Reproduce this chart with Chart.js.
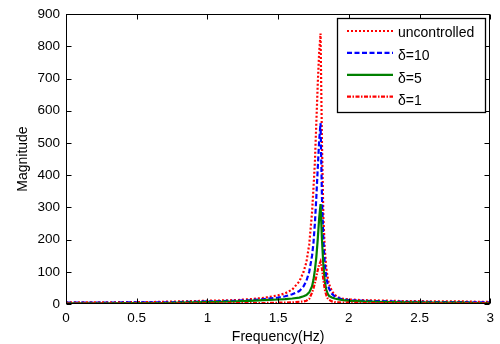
<!DOCTYPE html>
<html>
<head>
<meta charset="utf-8">
<script src="https://cdn.jsdelivr.net/npm/chart.js@4/dist/chart.umd.min.js"></script>
<style>
html,body{margin:0;padding:0;background:#fff;}
#c{display:block;}
</style>
</head>
<body>
<canvas id="c" width="500" height="344"></canvas>
<script>
// ---- data ----
const freq = [0,0.1,0.2,0.3,0.4,0.5,0.6,0.7,0.8,0.9,1.0,1.1,1.2,1.3,1.4,1.5,1.55,1.6,1.65,1.68,1.7,1.72,1.74,1.75,1.76,1.77,1.78,1.79,1.8,1.81,1.82,1.83,1.84,1.85,1.86,1.88,1.9,1.93,1.96,2.0,2.1,2.2,2.3,2.4,2.5,2.6,2.7,2.8,2.9,3.0];
const uncontrolled = [5,5,5,5,6,6,6,7,8,9,10,11,12,15,19,27,33,45,70,100,130,185,285,360,440,560,680,780,840,500,270,170,115,82,62,40,28,20,16,14,12,11,10,9,9,8,8,8,7,7];
const delta10 = [4,4,4,4,5,5,5,5,6,7,8,9,10,12,15,20,24,30,40,55,72,100,150,190,250,330,420,505,562,330,200,125,85,62,48,32,24,18,14,12,10,9,8,7,7,6,6,6,5,5];
const delta5 = [2,2,2,2,3,3,3,3,4,5,6,7,8,10,12,14,15,17,20,24,28,36,55,75,105,145,200,265,310,200,120,70,45,32,25,20,17,14,12,10,8,7,6,5,5,4,4,4,3,3];
const delta1 = [1,1,1,1,1,1,1,1,2,2,2,2,3,3,3,4,4,5,7,8,10,16,35,48,65,85,105,122,132,110,75,45,28,18,13,8,6,5,4,4,3,3,3,2,2,2,2,2,2,2];
const seriesLabels = ['uncontrolled', 'δ=10', 'δ=5', 'δ=1'];
const xTickValues = [0,0.5,1,1.5,2,2.5,3];
const xTickLabels = ['0','0.5','1','1.5','2','2.5','3'];
const yTickValues = [0,100,200,300,400,500,600,700,800,900];
const yTickLabels = ['0','100','200','300','400','500','600','700','800','900'];
const xTitle = 'Frequency(Hz)';
const yTitle = 'Magnitude';

function pts(ys){ return freq.map((f,i)=>({x:f, y:ys[i]})); }

const styles = [
  {color:'#ff0000', dash:[2,2], width:2.2, order:4},
  {color:'#0000ff', dash:[5,2.5], width:2.2, order:3},
  {color:'#008000', dash:[], width:2.2, order:2},
  {color:'#ff0000', dash:[4,1.5,1.5,1.5], width:2.2, order:1}
];
const allSeries = [uncontrolled, delta10, delta5, delta1];

const datasets = allSeries.map((s,i)=>({
  label: seriesLabels[i],
  data: pts(s),
  borderColor: styles[i].color,
  backgroundColor: styles[i].color,
  borderDash: styles[i].dash,
  borderWidth: styles[i].width,
  pointRadius: 0,
  tension: 0,
  fill: false,
  order: styles[i].order
}));

const frameTicks = {
  id: 'frameTicks',
  afterDatasetsDraw(chart){
    const {ctx, chartArea:a, scales:{x, y}} = chart;
    ctx.save();
    ctx.strokeStyle = '#000';
    ctx.lineWidth = 1;
    ctx.setLineDash([]);
    const L = Math.round(a.left)+0.5, R = Math.round(a.right)-0.5;
    const T = Math.round(a.top)+0.5, B = Math.round(a.bottom)-0.5;
    ctx.strokeRect(L, T, R-L, B-T);
    const tl = 5;
    ctx.beginPath();
    xTickValues.forEach(v=>{
      const px = Math.round(x.getPixelForValue(v))+0.5;
      ctx.moveTo(px, B); ctx.lineTo(px, B-tl);
      ctx.moveTo(px, T); ctx.lineTo(px, T+tl);
    });
    yTickValues.forEach(v=>{
      const py = Math.round(y.getPixelForValue(v))+0.5;
      ctx.moveTo(L, py); ctx.lineTo(L+tl, py);
      ctx.moveTo(R, py); ctx.lineTo(R-tl, py);
    });
    ctx.stroke();
    ctx.restore();
  }
};

const boxLegend = {
  id: 'boxLegend',
  afterDraw(chart){
    const ctx = chart.ctx;
    ctx.save();
    const bx = 337.5, by = 18.5, bw = 148, bh = 94;
    ctx.fillStyle = '#fff';
    ctx.fillRect(bx, by, bw, bh);
    ctx.strokeStyle = '#000';
    ctx.lineWidth = 1.3;
    ctx.setLineDash([]);
    ctx.strokeRect(bx, by, bw, bh);
    ctx.font = '14px "Liberation Sans", Arial, sans-serif';
    ctx.textBaseline = 'middle';
    ctx.textAlign = 'left';
    chart.data.datasets.forEach((ds, i)=>{
      const ly = 31 + i*21.9;
      ctx.strokeStyle = ds.borderColor;
      ctx.lineWidth = ds.borderWidth;
      ctx.setLineDash(ds.borderDash);
      ctx.beginPath();
      ctx.moveTo(347, ly); ctx.lineTo(393, ly);
      ctx.stroke();
      ctx.fillStyle = '#000';
      ctx.fillText(ds.label, 398, ly + 2.5 + i*0.8);
    });
    ctx.restore();
  }
};

const tickFont = {family:'"Liberation Sans", Arial, sans-serif', size:13.5};
const titleFont = {family:'"Liberation Sans", Arial, sans-serif', size:14};

new Chart(document.getElementById('c'), {
  type: 'line',
  data: {datasets},
  options: {
    responsive: false,
    animation: false,
    devicePixelRatio: 1,
    layout: {padding: {left:0, top:11, right:9, bottom:0}},
    plugins: {legend:{display:false}, tooltip:{enabled:false}},
    scales: {
      x: {
        type: 'linear', min: 0, max: 3,
        grid: {display:false, drawTicks:false},
        border: {display:false},
        afterBuildTicks: s => { s.ticks = xTickValues.map(v=>({value:v})); },
        afterFit: s => { s.height = 40; },
        ticks: {
          color:'#000', font: tickFont, padding: 6, maxRotation: 0, autoSkip: false,
          callback: (v) => xTickLabels[xTickValues.indexOf(v)]
        },
        title: {display:true, text:xTitle, color:'#000', font:titleFont, padding:{top:0, bottom:-1.5}}
      },
      y: {
        type: 'linear', min: 0, max: 900,
        grid: {display:false, drawTicks:false},
        border: {display:false},
        afterBuildTicks: s => { s.ticks = yTickValues.map(v=>({value:v})); },
        afterFit: s => { s.width = 66; },
        ticks: {
          color:'#000', font: tickFont, padding: 6, autoSkip: false,
          callback: (v) => yTickLabels[yTickValues.indexOf(v)]
        },
        title: {display:true, text:yTitle, color:'#000', font:titleFont, padding:{top:15, bottom:0}}
      }
    }
  },
  plugins: [frameTicks, boxLegend]
});
</script>
</body>
</html>
